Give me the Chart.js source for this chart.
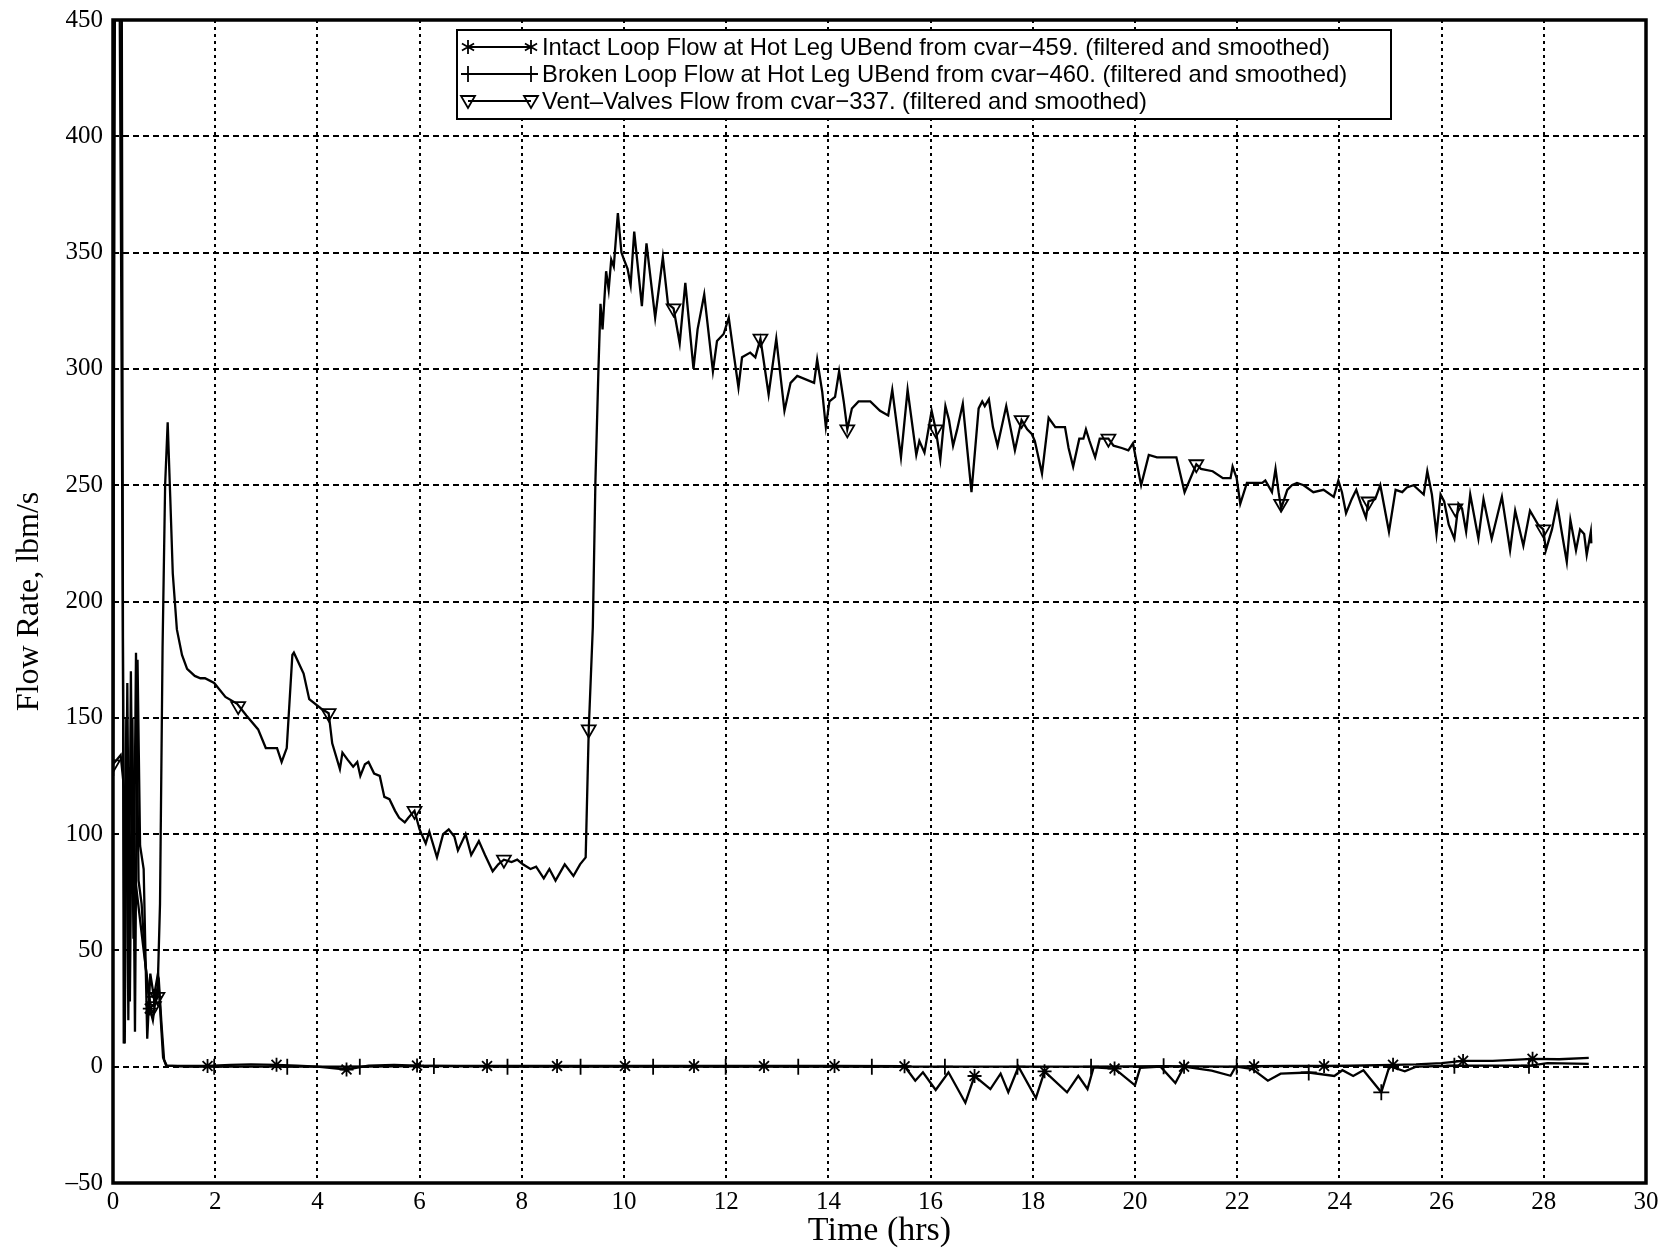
<!DOCTYPE html>
<html>
<head>
<meta charset="utf-8">
<script src="https://cdn.jsdelivr.net/npm/chart.js@4.4.0/dist/chart.umd.min.js"></script>
<style>
  body { margin: 0; background: #fff; }
  #wrap { width: 1666px; height: 1252px; position: relative; }
</style>
</head>
<body>
<div id="wrap"><canvas id="flowChart"></canvas></div>
<script>
// Vent-valves flow (cvar-337), hours / lbm/s
const ventT = [0, 0.15, 0.25, 0.35, 0.45, 0.6, 0.73, 0.8, 0.87, 0.92, 0.97, 1.02, 1.07, 1.12, 1.17, 1.25, 1.35, 1.45, 1.6, 1.71,
    1.8, 1.98, 2.2, 2.43, 2.61, 2.84, 2.99, 3.21, 3.3, 3.4, 3.51, 3.54, 3.73, 3.84, 4.07, 4.22, 4.29, 4.44, 4.49, 4.59,
    4.7, 4.78, 4.84, 4.93, 5.0, 5.11, 5.22, 5.31, 5.41, 5.52, 5.6, 5.71, 5.78, 5.9, 6.0, 6.12, 6.19, 6.34, 6.46, 6.57,
    6.68, 6.75, 6.9, 7.01, 7.16, 7.28, 7.43, 7.54, 7.65, 7.8, 7.91, 8.02, 8.17, 8.28, 8.43, 8.54, 8.66, 8.84, 9.01, 9.14,
    9.25, 9.31, 9.39, 9.44, 9.5, 9.54, 9.58, 9.65, 9.7, 9.75, 9.8, 9.88, 9.95, 10.0, 10.07, 10.13, 10.2, 10.35, 10.44, 10.61,
    10.76, 10.86, 10.97, 11.09, 11.2, 11.36, 11.44, 11.57, 11.74, 11.82, 11.95, 12.05, 12.15, 12.24, 12.31, 12.47, 12.57, 12.67, 12.83, 12.98,
    13.14, 13.26, 13.39, 13.72, 13.78, 13.88, 13.95, 14.02, 14.13, 14.21, 14.3, 14.37, 14.46, 14.59, 14.82, 15.01, 15.17, 15.25, 15.42, 15.55,
    15.72, 15.78, 15.88, 16.02, 16.1, 16.19, 16.29, 16.36, 16.44, 16.52, 16.63, 16.8, 16.94, 17.01, 17.06, 17.14, 17.22, 17.31, 17.48, 17.57,
    17.65, 17.78, 17.89, 17.98, 18.04, 18.18, 18.31, 18.44, 18.63, 18.7, 18.79, 18.91, 18.99, 19.04, 19.11, 19.22, 19.31, 19.48, 19.58, 19.74,
    19.87, 19.96, 20.12, 20.27, 20.43, 20.63, 20.81, 20.97, 21.2, 21.29, 21.52, 21.72, 21.87, 21.91, 21.99, 22.06, 22.19, 22.49, 22.55, 22.68,
    22.75, 22.81, 22.86, 22.98, 23.07, 23.17, 23.3, 23.49, 23.69, 23.89, 23.98, 24.05, 24.13, 24.24, 24.33, 24.42, 24.52, 24.57, 24.7, 24.8,
    24.97, 25.1, 25.23, 25.32, 25.45, 25.65, 25.72, 25.81, 25.9, 25.98, 26.05, 26.14, 26.25, 26.33, 26.4, 26.48, 26.56, 26.72, 26.82, 26.98,
    27.18, 27.34, 27.44, 27.6, 27.73, 27.89, 27.99, 28.04, 28.16, 28.26, 28.35, 28.45, 28.52, 28.63, 28.71, 28.79, 28.84, 28.92, 28.93];
const ventV = [130, 134, 112, 95, 78, 50, 27, 26, 30, 70, 180, 250, 277, 245, 212, 188, 177, 171, 168, 167,
    167, 165, 159, 156, 151, 145, 137, 137, 131, 137, 177, 178, 169, 158, 154, 152, 139, 128, 135, 132,
    129, 131, 125, 130, 131, 126, 125, 116, 115, 110, 107, 105, 107, 110, 102, 96, 101, 90, 100, 102,
    99, 93, 100, 91, 97, 91, 84, 87, 89, 88, 89, 87, 85, 86, 81, 85, 80, 87, 82, 87,
    90, 145, 189, 251, 300, 328, 317, 342, 334, 347, 344, 367, 350, 347, 343, 336, 359, 327, 354, 322,
    348, 328, 326, 311, 337, 300, 317, 332, 299, 312, 315, 322, 306, 292, 305, 307, 305, 313, 289, 313,
    282, 294, 297, 294, 304, 290, 275, 286, 288, 299, 286, 274, 283, 286, 286, 282, 280, 291, 262, 291,
    263, 269, 264, 282, 274, 261, 284, 278, 267, 274, 285, 247, 283, 286, 284, 287, 275, 267, 284, 274,
    265, 278, 274, 272, 269, 255, 279, 275, 275, 266, 258, 270, 270, 274, 269, 262, 270, 270, 267, 266,
    265, 268, 250, 263, 262, 262, 262, 247, 259, 257, 256, 253, 253, 258, 253, 242, 251, 251, 252, 247,
    257, 247, 240, 248, 250, 251, 250, 247, 248, 245, 252, 247, 238, 244, 248, 242, 236, 243, 244, 250,
    230, 248, 247, 249, 250, 246, 256, 246, 229, 246, 243, 233, 227, 242, 240, 230, 246, 227, 244, 227,
    245, 222, 239, 224, 239, 233, 231, 222, 231, 242, 230, 217, 235, 222, 231, 229, 220, 230, 225];
const ventMarkT = [0, 0.8, 0.87, 2.45, 4.22, 5.9, 7.65, 9.31, 10.97, 12.67, 14.37, 16.1, 17.78, 19.48, 21.2, 22.86, 24.57, 26.27, 27.99];
const ventMarkV = [130, 26, 30, 155, 152, 110, 89, 145, 326, 313, 274, 274, 278, 270, 259, 242, 243, 240, 231];

// Intact loop flow at hot leg U-bend (cvar-459)
const intactT = [0, 0.02, 0.05, 0.12, 0.17, 0.21, 0.26, 0.3, 0.35, 0.4, 0.45, 0.5, 0.56, 0.63, 0.72, 0.78, 0.85, 0.9, 0.95, 1.0,
    1.05, 1.3, 1.85, 2.3, 2.7, 3.2, 3.6, 4.0, 4.57, 5.0, 5.5, 5.95, 7.32, 8.69, 10.02, 11.37, 12.74, 14.12, 15.49, 15.7,
    15.85, 16.1, 16.35, 16.68, 16.86, 17.17, 17.37, 17.52, 17.72, 18.06, 18.23, 18.67, 18.89, 19.07, 19.19, 19.6, 20.0, 20.1, 20.5, 20.79,
    20.96, 21.5, 21.87, 21.97, 22.33, 23.0, 23.7, 24.2, 25.05, 25.5, 26.0, 26.42, 27.0, 27.78, 28.3, 28.88];
const intactV = [125, 470, 495, 490, 480, 10, 150, 20, 170, 55, 178, 80, 70, 45, 25, 20, 32, 36, 18, 3,
    0.5, 0.3, 0.3, 0.8, 1, 0.8, 0.5, 0, -1.2, 0.5, 0.8, 0.5, 0.3, 0.3, 0.3, 0.3, 0.3, 0.3, 0.2, -6,
    -2.4, -10, -2.4, -15.5, -4, -9.6, -3, -11, 0, -13.5, -2, -11, -3.9, -9.6, -0.3, -0.8, -8, -0.5, 0, -7,
    0, -1.7, -3.9, 0, 0.2, 0.3, 0.3, 0.4, 0.8, 1, 1.5, 2.5, 2.5, 3.4, 3.2, 3.8];
const intactMarkT = [0.72, 1.85, 3.2, 4.57, 5.95, 7.32, 8.69, 10.02, 11.37, 12.74, 14.12, 15.49, 16.86, 18.23, 19.6, 20.96, 22.33, 23.7, 25.05, 26.42, 27.78];
const intactMarkV = [25, 0.3, 0.8, -1.2, 0.5, 0.3, 0.3, 0.3, 0.3, 0.3, 0.3, 0.2, -4, -2, -0.8, 0, 0.2, 0.3, 0.8, 2.5, 3.4];

// Broken loop flow at hot leg U-bend (cvar-460)
const brokenT = [0, 0.04, 0.08, 0.13, 0.16, 0.23, 0.28, 0.33, 0.38, 0.43, 0.48, 0.53, 0.6, 0.67, 0.73, 0.8, 0.88, 0.93, 0.98, 1.04,
    1.5, 1.98, 3.41, 4.83, 6.28, 7.72, 9.15, 10.57, 11.99, 13.41, 14.85, 16.28, 17.7, 19.14, 20.56, 21.99, 22.3, 22.6, 22.85, 23.4,
    23.9, 24.06, 24.27, 24.47, 24.82, 24.98, 25.28, 25.5, 26.25, 27.0, 27.71, 28.07, 28.88];
const brokenV = [125, 480, 495, 460, 340, 10, 165, 28, 150, 15, 175, 95, 85, 12, 40, 30, 40, 22, 4, 0.5,
    0, 0, 0, 0, 0.3, 0, 0, 0, 0, 0, 0, 0, 0, 0, 0.2, 0, -1, -6, -3, -2.5,
    -4, -1.5, -4, -1.5, -11, 0.2, -2, 0, 0.4, 0.5, 0.4, 1.5, 1.2];
const brokenMarkT = [0.8, 1.98, 3.41, 4.83, 6.28, 7.72, 9.15, 10.57, 11.99, 13.41, 14.85, 16.28, 17.7, 19.14, 20.56, 21.99, 23.4, 24.82, 26.25, 27.71];
const brokenMarkV = [30, 0, 0, 0, 0.3, 0, 0, 0, 0, 0, 0, 0, 0, 0, 0.2, 0, -2.5, -11, 0.4, 0.4];

const legendLabels = [
    'Intact Loop Flow at Hot Leg UBend from cvar\u2212459. (filtered and smoothed)',
    'Broken Loop Flow at Hot Leg UBend from cvar\u2212460. (filtered and smoothed)',
    'Vent\u2013Valves Flow from cvar\u2212337. (filtered and smoothed)'
];

function toPoints(ts, vs) {
    return ts.map((t, i) => ({ x: t, y: vs[i] }));
}

function lineSet(ts, vs) {
    return {
        data: toPoints(ts, vs),
        borderColor: '#000',
        borderWidth: 2.3,
        pointRadius: 0,
        tension: 0,
        fill: false
    };
}

function markSet(ts, vs, style, rot, r) {
    return {
        data: toPoints(ts, vs),
        showLine: false,
        pointStyle: style,
        rotation: rot,
        pointRadius: r,
        borderColor: '#000',
        backgroundColor: 'rgba(0,0,0,0)',
        pointBorderWidth: 1.8
    };
}

// small marker drawing for the boxed legend
function drawMark(ctx, kind, x, y) {
    ctx.beginPath();
    if (kind === 'star') {
        for (let k = 0; k < 3; k++) {
            const a = Math.PI / 2 + k * Math.PI / 3;
            ctx.moveTo(x - 7 * Math.cos(a), y - 7 * Math.sin(a));
            ctx.lineTo(x + 7 * Math.cos(a), y + 7 * Math.sin(a));
        }
    } else if (kind === 'cross') {
        ctx.moveTo(x, y - 8); ctx.lineTo(x, y + 8);
        ctx.moveTo(x - 7, y); ctx.lineTo(x + 7, y);
    } else {
        ctx.moveTo(x - 7, y - 5); ctx.lineTo(x + 7, y - 5); ctx.lineTo(x, y + 7); ctx.closePath();
    }
    ctx.stroke();
}

const frameLegend = {
    id: 'frameLegend',
    afterDraw(chart) {
        const ctx = chart.ctx;
        const a = chart.chartArea;
        ctx.save();
        ctx.strokeStyle = '#000';
        ctx.lineWidth = 3.5;
        ctx.strokeRect(a.left, a.top, a.right - a.left, a.bottom - a.top);

        const bx = 457, by = 30, bw = 934, bh = 89;
        ctx.fillStyle = '#fff';
        ctx.fillRect(bx, by, bw, bh);
        ctx.lineWidth = 2;
        ctx.strokeRect(bx, by, bw, bh);

        const kinds = ['star', 'cross', 'tri'];
        const rows = [47, 74, 101];
        ctx.font = '24px "Liberation Sans", Arial, sans-serif';
        const sx = 788 / ctx.measureText(legendLabels[0]).width;
        ctx.fillStyle = '#000';
        ctx.textBaseline = 'middle';
        rows.forEach((y, i) => {
            ctx.lineWidth = 1.8;
            ctx.beginPath();
            ctx.moveTo(468, y); ctx.lineTo(531, y);
            ctx.stroke();
            drawMark(ctx, kinds[i], 468, y);
            drawMark(ctx, kinds[i], 531, y);
            ctx.save();
            ctx.translate(542, y + 1);
            ctx.scale(sx, 1);
            ctx.fillText(legendLabels[i], 0, 0);
            ctx.restore();
        });
        ctx.restore();
    }
};

const serif = '"Liberation Serif", "Times New Roman", serif';

new Chart(document.getElementById('flowChart'), {
    type: 'line',
    data: {
        datasets: [
            lineSet(intactT, intactV),
            lineSet(brokenT, brokenV),
            lineSet(ventT, ventV),
            markSet(intactMarkT, intactMarkV, 'star', 0, 7),
            markSet(brokenMarkT, brokenMarkV, 'cross', 0, 8),
            markSet(ventMarkT, ventMarkV, 'triangle', 180, 8)
        ]
    },
    options: {
        responsive: true,
        maintainAspectRatio: false,
        animation: false,
        devicePixelRatio: 1,
        layout: { padding: { top: 16, right: 20, left: 0, bottom: 0 } },
        plugins: {
            legend: { display: false },
            tooltip: { enabled: false }
        },
        scales: {
            x: {
                type: 'linear',
                min: 0,
                max: 30,
                afterFit: s => { s.height = 69; },
                ticks: { stepSize: 2, color: '#000', padding: 4, maxRotation: 0, font: { family: serif, size: 25 } },
                grid: { color: '#000', lineWidth: 2, drawTicks: false },
                border: { display: false, dash: [3, 4] },
                title: { display: true, text: 'Time (hrs)', color: '#000', padding: { top: 0, bottom: 1 }, font: { family: serif, size: 34 } }
            },
            y: {
                min: -50,
                max: 450,
                afterFit: s => { s.width = 113; },
                ticks: {
                    stepSize: 50, color: '#000', padding: 10, font: { family: serif, size: 25, lineHeight: 0.8 },
                    callback: v => v < 0 ? '\u2013' + Math.abs(v) : String(v)
                },
                grid: { color: '#000', lineWidth: 2, drawTicks: false },
                border: { display: false, dash: [6, 4] },
                title: { display: true, text: 'Flow Rate, lbm/s', color: '#000', padding: { top: 10, bottom: 0 }, font: { family: serif, size: 32 } }
            }
        }
    },
    plugins: [frameLegend]
});
</script>
</body>
</html>
